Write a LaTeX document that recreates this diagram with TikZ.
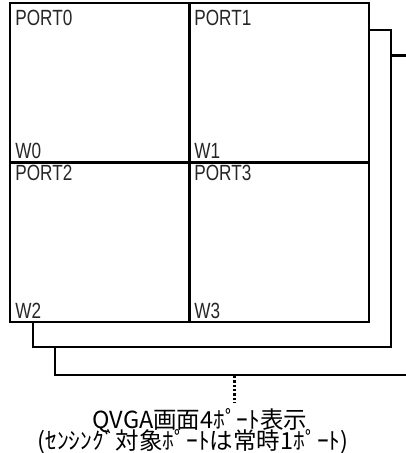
\documentclass[tikz,border=0pt]{standalone}
\usepackage{fontspec}
\setmainfont{Liberation Sans}[FakeStretch=0.78]
\newfontfamily\jpfont{Noto Sans CJK JP}
\begin{document}
\begin{tikzpicture}[x=1pt,y=-1pt,line width=2.8pt,
  quad/.style={draw,rectangle,inner sep=0pt,outer sep=0pt,minimum width=179.5pt,minimum height=159.5pt},
  lbl/.style={inner sep=0pt,anchor=base west,text=black!85,font=\fontsize{22}{22}\selectfont},
  captext/.style={inner sep=0pt,anchor=base,font=\jpfont\fontsize{23.5}{23.5}\selectfont},
  dots/.style={line width=3pt,dash pattern=on 2.3pt off 2pt}]
\useasboundingbox (0,0) rectangle (405,453);
% quadrants
\node[quad] (q0) at (99.75,82.75) {};
\node[quad] (q1) at (279.25,82.75) {};
\node[quad] (q2) at (99.75,242.25) {};
\node[quad] (q3) at (279.25,242.25) {};
% labels
\node[lbl] (p0) at (14,25.5) {PORT0};
\node[lbl] (p1) at (193,25.5) {PORT1};
\node[lbl] (w0) at (14,158) {W0};
\node[lbl] (w1) at (193,158) {W1};
\node[lbl] (p2) at (14,180) {PORT2};
\node[lbl] (p3) at (193,180) {PORT3};
\node[lbl] (w2) at (14,318) {W2};
\node[lbl] (w3) at (193,318) {W3};
% connector coordinates
\coordinate (a0) at (369,30);
\coordinate (a1) at (391,30);
\coordinate (a2) at (391,347);
\coordinate (a3) at (33,347);
\coordinate (a4) at (33,322);
\coordinate (s0) at (391,55.5);
\coordinate (s1) at (406,55.5);
\coordinate (b0) at (55,347);
\coordinate (b1) at (55,375);
\coordinate (b2) at (406,375);
\coordinate (d0) at (234,376);
\coordinate (d1) at (234,402);
\draw (a0) -- (a1) -- (a2) -- (a3) -- (a4);
\draw (s0) -- (s1);
\draw (b0) -- (b1) -- (b2);
\draw[dots] (d0) -- (d1);
% caption
\node[captext] (c1) at (200,428) {QVGA画面4ﾎﾟｰﾄ表示};
\node[captext] (c2) at (193,449.5) {(ｾﾝｼﾝｸﾞ対象ﾎﾟｰﾄは常時1ﾎﾟｰﾄ)};
\end{tikzpicture}
\end{document}
